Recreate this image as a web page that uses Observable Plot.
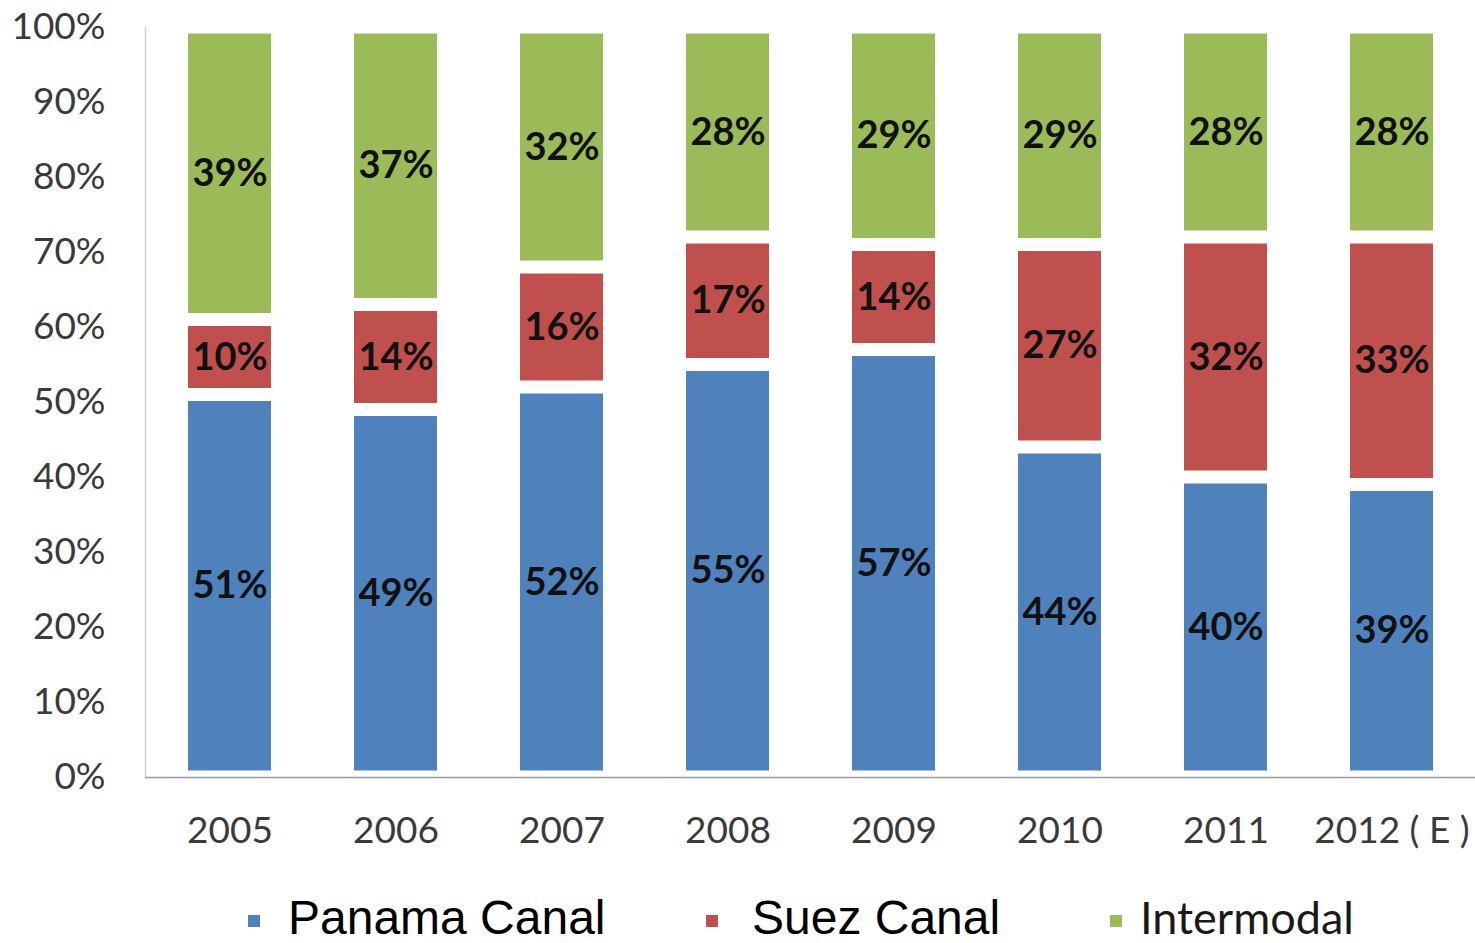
<!DOCTYPE html>
<html>
<head>
<meta charset="utf-8">
<script src="https://cdn.jsdelivr.net/npm/d3@7"></script>
<script src="https://cdn.jsdelivr.net/npm/@observablehq/plot@0.6"></script>
<style>
  html, body { margin: 0; padding: 0; background: #fff; }
  #chart svg { display: block; }
  #legend { position: relative; width: 1475px; height: 73px; color: #000; }
  .item { position: absolute; white-space: nowrap; }
  .arial { font-family: "Liberation Sans", Arial, sans-serif; font-size: 48px; line-height: 48px; top: 24px; }
  .calib { font-family: Lato, sans-serif; font-size: 45px; line-height: 45px; top: 25px; color: #1a1a1a; }
  .sw { position: absolute; width: 12px; height: 12px; top: 45px; filter: blur(0.6px); }
</style>
</head>
<body>
<div id="chart"></div>
<div id="legend"></div>
<script>
const years = ["2005", "2006", "2007", "2008", "2009", "2010", "2011", "2012 ( E )"];
const seriesNames = ["Panama Canal", "Suez Canal", "Intermodal"];
const panama = [51, 49, 52, 55, 57, 44, 40, 39];
const suez = [10, 14, 16, 17, 14, 27, 32, 33];
const intermodal = [39, 37, 32, 28, 29, 29, 28, 28];
const colors = ["#4F81BD", "#C0504D", "#9BBB59"];
const yTicks = [0, 10, 20, 30, 40, 50, 60, 70, 80, 90, 100];

const valuesBySeries = [panama, suez, intermodal];
const data = [];
seriesNames.forEach((s, si) => {
  years.forEach((yr, i) => data.push({year: yr, series: s, value: valuesBySeries[si][i]}));
});

const stackOpts = {x: "year", y: "value", z: "series", order: seriesNames};

const chart = Plot.plot({
  width: 1475,
  height: 870,
  marginTop: 27,
  marginBottom: 93,
  marginLeft: 145,
  marginRight: 0,
  style: {fontFamily: "Lato, sans-serif", background: "#fff"},
  x: {domain: years, paddingInner: 0.5, paddingOuter: 0.25, label: null, tickSize: 0, tickPadding: 40},
  y: {domain: [0, 100], label: null, ticks: yTicks, tickFormat: d => d + "%", tickSize: 0, tickPadding: 40},
  color: {domain: seriesNames, range: colors},
  marks: [
    Plot.frame({anchor: "left", stroke: "#d4d4d4", strokeWidth: 1.5}),
    Plot.barY(data, Plot.stackY({...stackOpts, fill: "series", insetTop: 6.5, insetBottom: 6.5})),
    Plot.text(data, Plot.stackY({...stackOpts, text: d => d.value + "%", fill: "#111", fontSize: 38, fontWeight: "bold"})),
    Plot.ruleY([0], {stroke: "#9a9a9a", strokeWidth: 1.5}),
    Plot.axisY({ticks: yTicks, tickFormat: d => d + "%", tickSize: 0, tickPadding: 40, fontSize: 37, fill: "#3a3a3a", label: null}),
    Plot.axisX({tickSize: 0, tickPadding: 39, fontSize: 37, fill: "#3a3a3a", label: null})
  ]
});
document.getElementById("chart").appendChild(chart);

const legendPos = [{sw: 248, tx: 288, cls: "arial"}, {sw: 706, tx: 752, cls: "arial"}, {sw: 1110, tx: 1140, cls: "calib"}];
const legend = document.getElementById("legend");
seriesNames.forEach((s, i) => {
  const sw = document.createElement("div");
  sw.className = "sw";
  sw.style.left = legendPos[i].sw + "px";
  sw.style.background = colors[i];
  legend.appendChild(sw);
  const t = document.createElement("div");
  t.className = "item " + legendPos[i].cls;
  t.style.left = legendPos[i].tx + "px";
  t.textContent = s;
  legend.appendChild(t);
});
</script>
</body>
</html>
